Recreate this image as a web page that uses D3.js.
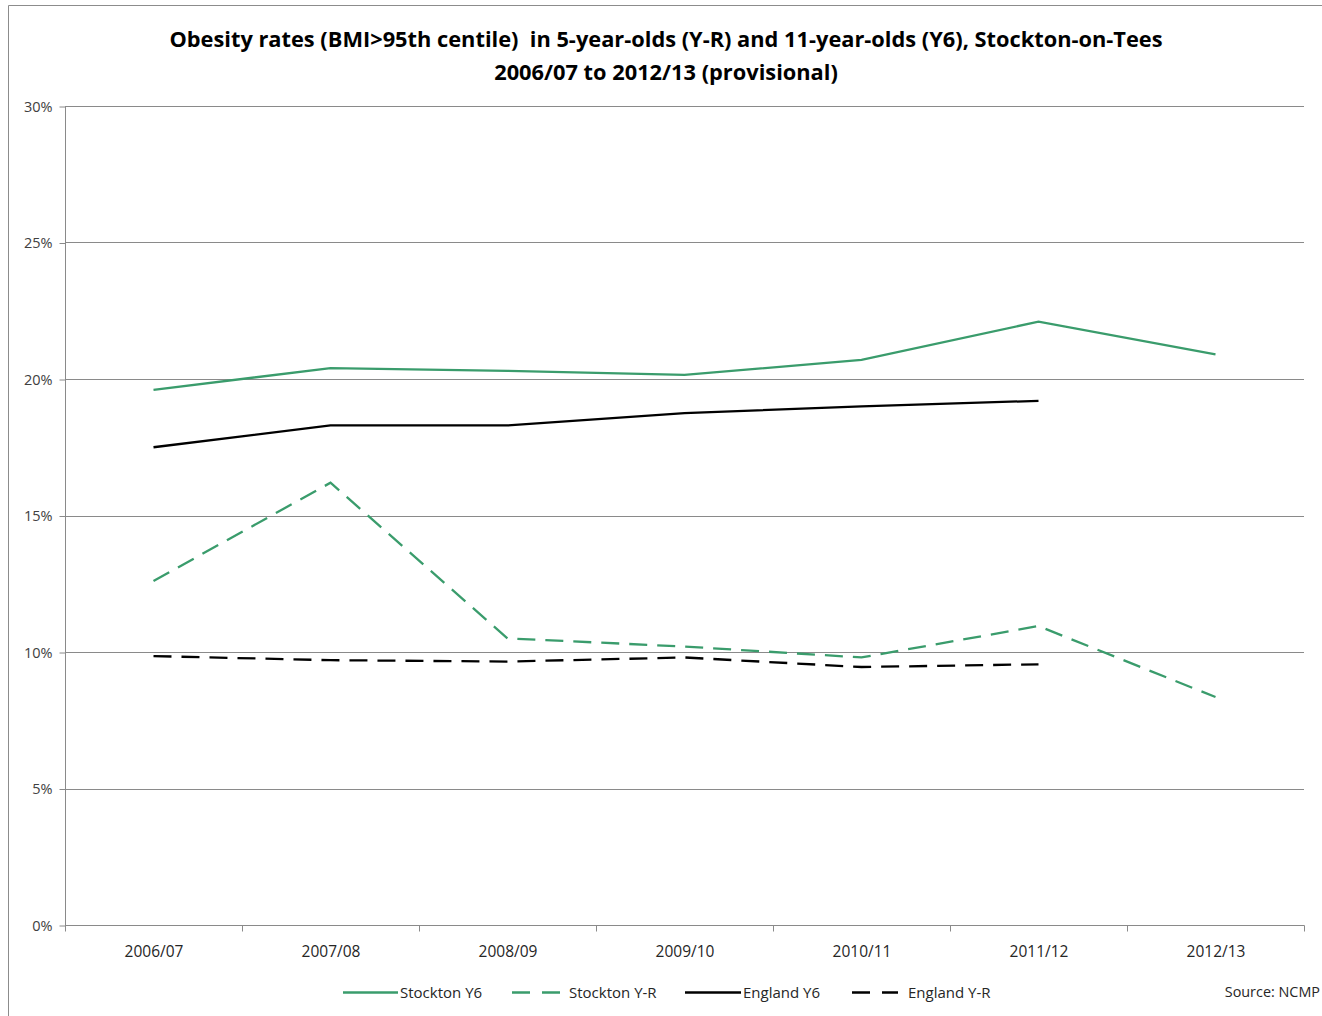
<!DOCTYPE html>
<html><head><meta charset="utf-8">
<script src="https://cdn.jsdelivr.net/npm/d3@7"></script>
<style>body{margin:0;background:#fff}svg{display:block}text{white-space:pre}</style>
</head><body>
<script>
const categories = ["2006/07","2007/08","2008/09","2009/10","2010/11","2011/12","2012/13"];
const stocktonY6 = [19.6,20.4,20.3,20.15,20.7,22.1,20.9];
const stocktonYR = [12.6,16.2,10.5,10.2,9.8,10.95,8.35];
const englandY6 = [17.5,18.3,18.3,18.75,19.0,19.2,null];
const englandYR = [9.85,9.7,9.65,9.8,9.45,9.55,null];
const yTicks = [0,5,10,15,20,25,30];
const seriesNames = ["Stockton Y6","Stockton Y-R","England Y6","England Y-R"];
const titleLines = ["Obesity rates (BMI>95th centile)  in 5-year-olds (Y-R) and 11-year-olds (Y6), Stockton-on-Tees","2006/07 to 2012/13 (provisional)"];
const sourceText = "Source: NCMP";

const W=1322,H=1016;
const green="#3a9c6c";
const svg=d3.select("body").append("svg").attr("width",W).attr("height",H);
const font="'Open Sans', 'DejaVu Sans', sans-serif";

// frame
svg.append("path").attr("d","M8.5,1016 L8.5,5.5 L1322,5.5").attr("fill","none").attr("stroke","#8c8c8c").attr("stroke-width",1);

const L=65,R=1304,T=106,B=925;
const x=d3.scaleBand().domain(categories).range([L,R]);
const y=d3.scaleLinear().domain([0,30]).range([B,T]);

// gridlines
svg.append("g").selectAll("line").data(yTicks).join("line")
 .attr("x1",L).attr("x2",R).attr("y1",d=>Math.round(y(d))+0.5).attr("y2",d=>Math.round(y(d))+0.5)
 .attr("stroke","#8a8a8a").attr("stroke-width",1);

// y axis
const ya=svg.append("g").attr("transform",`translate(${L+0.5},0.5)`)
 .call(d3.axisLeft(y).tickValues(yTicks).tickFormat(d=>d+"%").tickSize(6).tickPadding(7));
ya.selectAll("path,line").attr("stroke","#8a8a8a");
ya.select(".domain").attr("d",`M0,${T}V${B}`);
ya.selectAll("text").attr("font-family",font).attr("font-size",14.5).attr("fill","#404040");

// x axis
const xa=svg.append("g").attr("transform",`translate(0.5,${B+0.5})`)
 .call(d3.axisBottom(x).tickSize(0).tickPadding(20));
xa.select(".domain").attr("stroke","#8a8a8a").attr("d",`M${L},0H${R}`);
xa.selectAll("text").attr("font-family",font).attr("font-size",15.5).attr("fill","#262626");
const bounds=categories.map(c=>x(c)).concat([R]);
xa.append("g").selectAll("line").data(bounds).join("line")
 .attr("x1",d=>Math.round(d)).attr("x2",d=>Math.round(d)).attr("y1",0).attr("y2",6).attr("stroke","#8a8a8a");

const cx=c=>x(c)+x.bandwidth()/2;
const line=d3.line().defined(d=>d.v!=null).x(d=>cx(d.c)).y(d=>y(d.v));
const mk=arr=>categories.map((c,i)=>({c,v:arr[i]}));
const series=[
 {data:stocktonY6,color:green,dash:null},
 {data:stocktonYR,color:green,dash:"18,10"},
 {data:englandY6,color:"#000",dash:null},
 {data:englandYR,color:"#000",dash:"18,10"}
];
svg.append("g").selectAll("path").data(series).join("path")
 .attr("d",s=>line(mk(s.data))).attr("fill","none").attr("stroke",s=>s.color)
 .attr("stroke-width",2.3).attr("stroke-dasharray",s=>s.dash);

// title
svg.append("g").selectAll("text").data(titleLines).join("text")
 .attr("x",666).attr("y",(d,i)=>47+i*33).attr("text-anchor","middle")
 .attr("font-family",font).attr("font-weight","bold").attr("font-size",21.8).attr("fill","#000").text(d=>d);

// legend
const leg=[
 {x1:343,x2:398,tx:400},
 {x1:512,x2:560,tx:569},
 {x1:685,x2:741,tx:743},
 {x1:852,x2:898,tx:908}
];
const lg=svg.append("g");
leg.forEach((l,i)=>{
 const s=series[i];
 lg.append("line").attr("x1",l.x1).attr("x2",l.x2).attr("y1",992.5).attr("y2",992.5)
  .attr("stroke",s.color).attr("stroke-width",2.3).attr("stroke-dasharray",s.dash?"18,12":null);
 lg.append("text").attr("x",l.tx).attr("y",997.5).attr("font-family",font).attr("font-size",15)
  .attr("fill","#262626").text(seriesNames[i]);
});
svg.append("text").attr("x",1320).attr("y",997).attr("text-anchor","end").attr("font-family",font)
 .attr("font-size",14.4).attr("fill","#262626").text(sourceText);
</script>
</body></html>
